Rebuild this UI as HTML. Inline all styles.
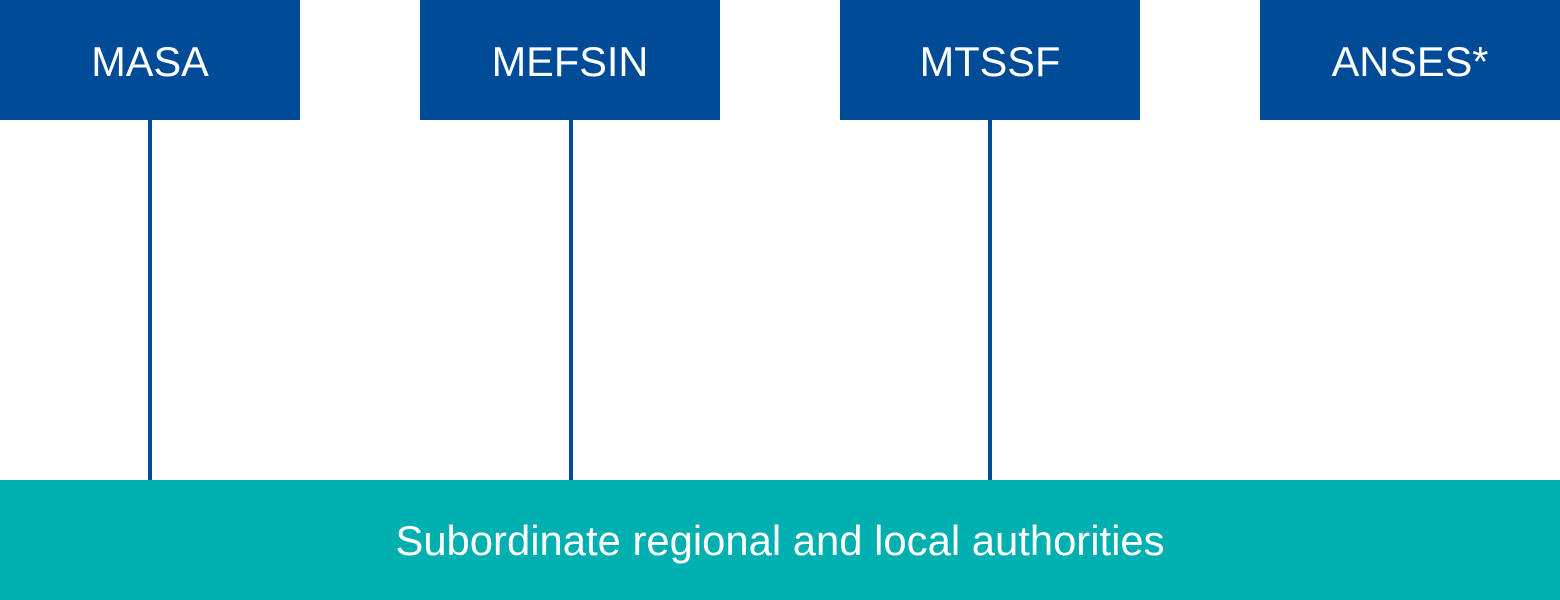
<!DOCTYPE html>
<html><head><style>
html,body{margin:0;padding:0;width:1560px;height:600px;background:#fff;overflow:hidden;position:relative;font-family:"Liberation Sans",sans-serif}
.b{position:absolute;top:0;width:300px;height:120px;background:#004b98;color:#fff;font-size:41.5px;display:flex;align-items:center;justify-content:center;padding-top:4px;box-sizing:border-box}
.l{position:absolute;top:120px;width:4px;height:360px;background:#004b98}
.bot{position:absolute;left:0;top:480px;width:1560px;height:120px;background:#00afaf;color:#fff;font-size:41.8px;display:flex;align-items:center;justify-content:center;padding-top:2px;box-sizing:border-box}
</style></head><body>
<div class="b" style="left:0">MASA</div>
<div class="b" style="left:420px">MEFSIN</div>
<div class="b" style="left:840px">MTSSF</div>
<div class="b" style="left:1260px">ANSES*</div>
<div class="l" style="left:148px"></div>
<div class="l" style="left:569px"></div>
<div class="l" style="left:988px"></div>
<div class="bot">Subordinate regional and local authorities</div>
</body></html>
